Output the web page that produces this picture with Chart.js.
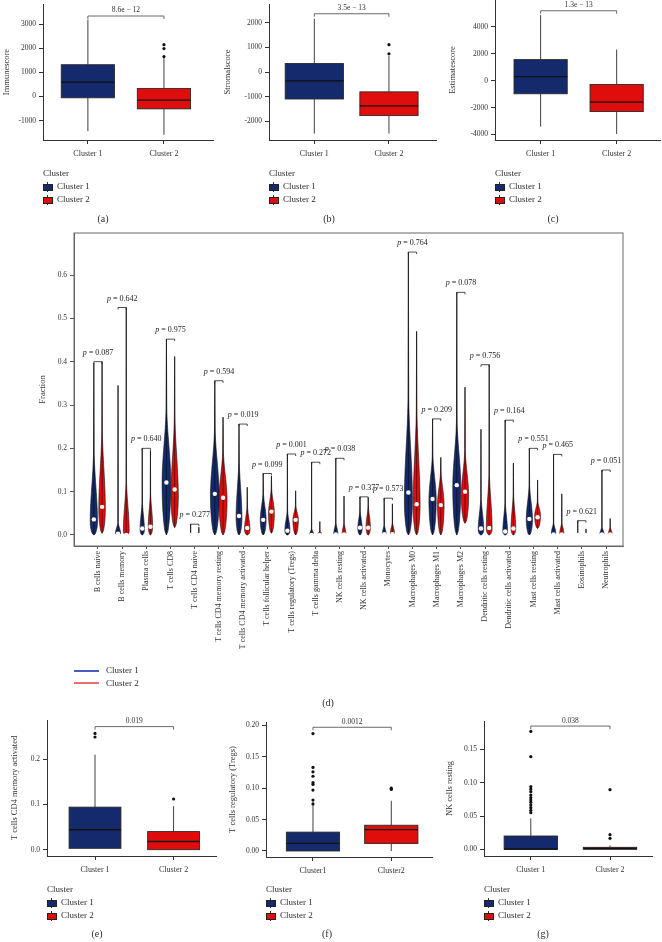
<!DOCTYPE html>
<html>
<head>
<meta charset="utf-8">
<script src="https://cdn.jsdelivr.net/npm/chart.js@4.4.0/dist/chart.umd.min.js"></script>
<style>
body { margin: 0; background: #fff; width: 662px; height: 942px; position: relative; overflow: hidden;
       font-family: "Liberation Serif", "DejaVu Serif", serif; color: #2a2a2a; }
canvas { position: absolute; }
.t { position: absolute; white-space: nowrap; line-height: 1; color: #2a2a2a; font-weight: normal;
     opacity: 0.99; will-change: transform; }
</style>
</head>
<body>
<canvas id="chartA" width="220" height="162" style="left:0;top:0"></canvas>
<canvas id="chartB" width="220" height="162" style="left:220px;top:0"></canvas>
<canvas id="chartC" width="222" height="162" style="left:440px;top:0"></canvas>
<canvas id="chartD" width="662" height="431" style="left:0;top:225px"></canvas>
<canvas id="chartE" width="220" height="173" style="left:0;top:705px"></canvas>
<canvas id="chartF" width="220" height="173" style="left:220px;top:705px"></canvas>
<canvas id="chartG" width="222" height="173" style="left:440px;top:705px"></canvas>

<script>
// ---------- data ----------

const clusterLabels = ["Cluster 1", "Cluster 2"];
const clusterLabelsF = ["Cluster1", "Cluster2"];

// boxplots: [lower whisker, q1, median, q3, upper whisker]
const immuneBox = [[-1445, -53, 595, 1323, 3198], [-1591, -514, -150, 336, 1619]];
const immuneOut = [[], [1660, 1996, 2158]];
const immuneTicks = [-1000, 0, 1000, 2000, 3000];

const stromalBox = [[-2490, -1091, -356, 344, 2162], [-2490, -1763, -1368, -802, 648]];
const stromalOut = [[], [739, 1107]];
const stromalTicks = [-2000, -1000, 0, 1000, 2000];

const estimateBox = [[-3417, -972, 299, 1570, 4882], [-3963, -2295, -1600, -277, 2318]];
const estimateOut = [[], []];
const estimateTicks = [-4000, -2000, 0, 2000, 4000];

const cd4Box = [[0.003, 0.003, 0.044, 0.094, 0.210], [0.0, 0.0, 0.018, 0.040, 0.096]];
const cd4Out = [[0.249, 0.257], [0.112]];
const cd4Ticks = [0, 0.1, 0.2];

const tregBox = [[0, 0, 0.012, 0.030, 0.073], [0, 0.012, 0.034, 0.041, 0.080]];
const tregOut = [[0.075, 0.081, 0.097, 0.106, 0.109, 0.119, 0.126, 0.133, 0.187], [0.098, 0.100]];
const tregTicks = [0, 0.05, 0.10, 0.15, 0.20];

const nkBox = [[0, 0, 0.0005, 0.020, 0.0465], [0, 0, 0.0015, 0.003, 0.006]];
const nkOut = [[0.055, 0.0585, 0.0625, 0.0665, 0.0705, 0.074, 0.0775, 0.0815, 0.0865, 0.0905, 0.094, 0.139, 0.177],
               [0.0165, 0.022, 0.0895]];
const nkTicks = [0, 0.05, 0.10, 0.15];

// violin panel
const cellTypes = ["B cells naive", "B cells memory", "Plasma cells", "T cells CD8", "T cells CD4 naive",
  "T cells CD4 memory resting", "T cells CD4 memory activated", "T cells follicular helper",
  "T cells regulatory (Tregs)", "T cells gamma delta", "NK cells resting", "NK cells activated",
  "Monocytes", "Macrophages M0", "Macrophages M1", "Macrophages M2", "Dendritic cells resting",
  "Dendritic cells activated", "Mast cells resting", "Mast cells activated", "Eosinophils", "Neutrophils"];
const pValues = ["0.087", "0.642", "0.640", "0.975", "0.277", "0.594", "0.019", "0.099", "0.001", "0.272",
  "0.038", "0.377", "0.573", "0.764", "0.209", "0.078", "0.756", "0.164", "0.551", "0.465", "0.621", "0.051"];
const fracTicks = [0, 0.1, 0.2, 0.3, 0.4, 0.5, 0.6];

const max1 = [0.397, 0.345, 0.200, 0.452, 0.025, 0.356, 0.256, 0.142, 0.187, 0.168, 0.177, 0.088, 0.085, 0.653, 0.268, 0.560, 0.244, 0.265, 0.200, 0.186, 0.033, 0.150];
const max2 = [0.400, 0.525, 0.195, 0.412, 0.018, 0.272, 0.110, 0.136, 0.102, 0.031, 0.090, 0.086, 0.072, 0.470, 0.179, 0.341, 0.393, 0.166, 0.127, 0.095, 0.014, 0.038];
const med1 = [0.036, 0.003, 0.015, 0.121, 0.000, 0.095, 0.044, 0.035, 0.010, 0.000, 0.001, 0.017, 0.002, 0.098, 0.083, 0.115, 0.015, 0.008, 0.037, 0.001, 0.000, 0.001];
const med2 = [0.065, 0.000, 0.019, 0.105, 0.000, 0.086, 0.016, 0.054, 0.035, 0.000, 0.001, 0.017, 0.002, 0.071, 0.069, 0.100, 0.016, 0.015, 0.041, 0.001, 0.000, 0.001];
const min1 = [0, 0, 0, 0, 0, 0, 0, 0, 0, 0, 0, 0, 0, 0, 0, 0, 0, 0, 0, 0, 0, 0];
const min2 = [0.004, 0, 0, 0.017, 0, 0, 0, 0.004, 0, 0, 0, 0, 0, 0, 0, 0.027, 0, 0, 0.015, 0, 0, 0];
const peak1 = [0.030, 0.004, 0.012, 0.120, 0.002, 0.090, 0.040, 0.035, 0.010, 0.003, 0.004, 0.015, 0.004, 0.080, 0.080, 0.110, 0.012, 0.008, 0.035, 0.005, 0.002, 0.003];
const peak2 = [0.060, 0.008, 0.020, 0.090, 0.002, 0.080, 0.012, 0.050, 0.035, 0.003, 0.004, 0.018, 0.005, 0.070, 0.070, 0.090, 0.015, 0.015, 0.045, 0.005, 0.002, 0.003];
const neck1 = [0.20, 0.03, 0.08, 0.30, 0.006, 0.25, 0.18, 0.10, 0.06, 0.015, 0.03, 0.06, 0.025, 0.33, 0.19, 0.27, 0.09, 0.08, 0.12, 0.03, 0.006, 0.02];
const neck2 = [0.25, 0.13, 0.10, 0.28, 0.005, 0.20, 0.07, 0.11, 0.07, 0.010, 0.03, 0.07, 0.030, 0.30, 0.15, 0.20, 0.15, 0.10, 0.08, 0.03, 0.005, 0.02];
const dens1 = [1.0, 0.7, 0.6, 1.2, 0.3, 1.2, 0.8, 0.8, 0.7, 0.5, 0.55, 0.6, 0.5, 1.1, 1.0, 1.1, 0.75, 0.65, 0.85, 0.6, 0.4, 0.55];
const dens2 = [0.9, 0.8, 0.6, 1.0, 0.3, 1.1, 0.75, 0.8, 0.75, 0.45, 0.5, 0.6, 0.55, 0.95, 0.9, 1.0, 0.8, 0.65, 0.8, 0.55, 0.4, 0.5];

// ---------- style ----------

const BLUE = "#142a6c";
const RED = "#e00d0d";
const FONT = "'Liberation Serif', 'DejaVu Serif', serif";
const AXIS = "#333";

Chart.defaults.font.family = FONT;
Chart.defaults.font.size = 8;
Chart.defaults.color = "#333";
Chart.defaults.animation = false;

function text(str, x, y, size, align) {
  const d = document.createElement("div");
  d.className = "t";
  d.textContent = str;
  d.style.fontSize = size + "px";
  d.style.top = Math.round(y - size / 2) + "px";
  if (align === "center") {
    d.style.left = Math.round(x - 100) + "px";
    d.style.width = "200px";
    d.style.textAlign = "center";
  } else {
    d.style.left = Math.round(x) + "px";
  }
  document.body.appendChild(d);
}

function key(x, y, color) {
  x = Math.round(x); y = Math.round(y);
  const l = document.createElement("div");
  l.style.cssText = "position:absolute;left:" + (x + 4) + "px;top:" + (y - 5) + "px;width:1px;height:10px;background:#333";
  document.body.appendChild(l);
  const b = document.createElement("div");
  b.style.cssText = "position:absolute;left:" + x + "px;top:" + (y - 3) + "px;width:8px;height:5px;background:" + color + ";border:1px solid #222";
  document.body.appendChild(b);
}

function legendBlock(x, y) {
  text("Cluster", x, y, 9);
  key(x, y + 13.5, BLUE);
  text("Cluster 1", x + 14, y + 13.5, 9);
  key(x, y + 26.5, RED);
  text("Cluster 2", x + 14, y + 26.5, 9);
}

// ---------- boxplot panels ----------

function boxPanel(id, cfg) {

  const boxPlugin = {
    id: "boxes",
    beforeDatasetsDraw(chart) {
      const ctx = chart.ctx, xs = chart.scales.x, ys = chart.scales.y;
      const fills = [BLUE, RED];
      ctx.save();
      cfg.box.forEach((b, i) => {
        const cx = xs.getPixelForValue(i + 1);
        const half = xs.getPixelForValue(i + 1 + cfg.half) - cx;
        const p = b.map(v => ys.getPixelForValue(v));
        ctx.strokeStyle = "#2a2a2a";
        ctx.lineWidth = 0.9;
        ctx.beginPath();
        ctx.moveTo(cx, p[0]); ctx.lineTo(cx, p[1]);
        ctx.moveTo(cx, p[3]); ctx.lineTo(cx, p[4]);
        ctx.stroke();
        ctx.fillStyle = fills[i];
        ctx.fillRect(cx - half, p[3], 2 * half, p[1] - p[3]);
        ctx.strokeRect(cx - half, p[3], 2 * half, p[1] - p[3]);
        ctx.strokeStyle = "#111";
        ctx.lineWidth = 1.3;
        ctx.beginPath();
        ctx.moveTo(cx - half, p[2]); ctx.lineTo(cx + half, p[2]);
        ctx.stroke();
      });

      // significance bracket
      const x1 = xs.getPixelForValue(1), x2 = xs.getPixelForValue(2);
      const yb = ys.getPixelForValue(cfg.bracket);
      ctx.strokeStyle = "#444";
      ctx.lineWidth = 0.8;
      ctx.beginPath();
      ctx.moveTo(x1, yb + 3); ctx.lineTo(x1, yb); ctx.lineTo(x2, yb); ctx.lineTo(x2, yb + 3);
      ctx.stroke();
      ctx.fillStyle = "#333";
      ctx.font = "7.5px " + FONT;
      ctx.textAlign = "center";
      ctx.textBaseline = "middle";
      ctx.fillText(cfg.pText, (x1 + x2) / 2, yb - 5.5);
      ctx.restore();
    }
  };

  new Chart(document.getElementById(id), {

    type: "scatter",

    data: {
      datasets: [{
        data: cfg.out.flatMap((arr, i) => arr.map(v => ({ x: i + 1, y: v }))),
        pointRadius: 1.6,
        backgroundColor: "#111",
        borderWidth: 0
      }]
    },

    options: {
      responsive: false,
      layout: { padding: { top: cfg.padTop, right: cfg.padRight, left: 0, bottom: 0 } },
      plugins: { legend: { display: false }, tooltip: { enabled: false } },
      scales: {
        x: {
          type: "linear",
          min: cfg.xMin,
          max: cfg.xMax,
          afterBuildTicks: s => { s.ticks = [{ value: 1 }, { value: 2 }]; },
          afterFit: s => { s.height = cfg.xHeight; s.paddingLeft = 0; s.paddingRight = 0; },
          ticks: { callback: v => cfg.labels[v - 1], padding: 5, font: { size: 8 }, maxRotation: 0 },
          grid: { drawOnChartArea: false, tickLength: 4, color: AXIS },
          border: { color: AXIS }
        },
        y: {
          min: cfg.yMin,
          max: cfg.yMax,
          afterBuildTicks: s => { s.ticks = cfg.ticks.map(v => ({ value: v })); },
          afterFit: s => { s.width = cfg.yWidth; s.paddingTop = 0; s.paddingBottom = 0; },
          ticks: { callback: v => v.toFixed(cfg.digits), padding: 3, font: { size: 7.5 } },
          title: { display: true, text: cfg.yTitle, font: { size: 8.5 }, padding: { top: cfg.titlePad, bottom: 0 } },
          grid: { drawOnChartArea: false, tickLength: 4, color: AXIS },
          border: { color: AXIS }
        }
      }
    },

    plugins: [boxPlugin]
  });
}

boxPanel("chartA", {
  box: immuneBox, out: immuneOut, ticks: immuneTicks, labels: clusterLabels,
  yMin: -1810, yMax: 3850, xMin: 0.41, xMax: 2.645, half: 0.35, digits: 0,
  yWidth: 43, padTop: 0, padRight: 7, xHeight: 22, titlePad: 2,
  yTitle: "Immunescore", bracket: 3350, pText: "8.6e \u2212 12"
});

boxPanel("chartB", {
  box: stromalBox, out: stromalOut, ticks: stromalTicks, labels: clusterLabels,
  yMin: -2751, yMax: 2755, xMin: 0.393, xMax: 2.63, half: 0.39, digits: 0,
  yWidth: 49, padTop: 0, padRight: 2, xHeight: 22, titlePad: 3,
  yTitle: "Stromalscore", bracket: 2360, pText: "3.5e \u2212 13"
});

boxPanel("chartC", {
  box: estimateBox, out: estimateOut, ticks: estimateTicks, labels: clusterLabels,
  yMin: -4411, yMax: 6004, xMin: 0.40, xMax: 2.57, half: 0.35, digits: 0,
  yWidth: 55, padTop: 0, padRight: 2, xHeight: 22, titlePad: 8,
  yTitle: "Estimatescore", bracket: 5204, pText: "1.3e \u2212 13"
});

boxPanel("chartE", {
  box: cd4Box, out: cd4Out, ticks: cd4Ticks, labels: clusterLabels,
  yMin: -0.014, yMax: 0.2866, xMin: 0.389, xMax: 2.54, half: 0.33, digits: 1,
  yWidth: 47, padTop: 15, padRight: 3, xHeight: 22, titlePad: 10,
  yTitle: "T cells CD4 memory activated", bracket: 0.272, pText: "0.019"
});

boxPanel("chartF", {
  box: tregBox, out: tregOut, ticks: tregTicks, labels: clusterLabelsF,
  yMin: -0.0096, yMax: 0.2054, xMin: 0.40, xMax: 2.52, half: 0.34, digits: 2,
  yWidth: 46, padTop: 17, padRight: 8, xHeight: 21, titlePad: 8,
  yTitle: "T cells regulatory (Tregs)", bracket: 0.197, pText: "0.0012"
});

boxPanel("chartG", {
  box: nkBox, out: nkOut, ticks: nkTicks, labels: clusterLabels,
  yMin: -0.010, yMax: 0.1926, xMin: 0.409, xMax: 2.53, half: 0.337, digits: 2,
  yWidth: 44, padTop: 16, padRight: 10, xHeight: 22, titlePad: 5,
  yTitle: "NK cells resting", bracket: 0.185, pText: "0.038"
});

// ---------- violin panel ----------

const OFF = 0.17;     // dodge of the two clusters
const VW = 0.15;      // violin half width per unit density

function drawViolin(ctx, ys, cx, w, lo, peak, neck, hi, color) {
  const vals = [];
  for (let k = 0; k <= 14; k++) vals.push(lo + (peak - lo) * k / 14);
  for (let k = 1; k <= 20; k++) vals.push(peak + (neck - peak) * k / 20);
  for (let k = 1; k <= 6; k++) vals.push(neck + (hi - neck) * k / 6);
  const pts = vals.map(v => {
    let h;
    if (v <= peak) {
      const t = peak > lo ? (v - lo) / (peak - lo) : 1;
      h = w * Math.sqrt(Math.sin(t * Math.PI / 2));
    } else if (v <= neck) {
      const t = (v - peak) / (neck - peak), s = t * t * (3 - 2 * t);
      h = w * (1 - 0.92 * s);
    } else {
      const t = (v - neck) / (hi - neck);
      h = w * 0.08 * (1 - t);
    }
    return [ys.getPixelForValue(v), h];
  });
  ctx.beginPath();
  pts.forEach((p, k) => k ? ctx.lineTo(cx - p[1], p[0]) : ctx.moveTo(cx - p[1], p[0]));
  for (let k = pts.length - 1; k >= 0; k--) ctx.lineTo(cx + pts[k][1], pts[k][0]);
  ctx.closePath();
  ctx.fillStyle = color;
  ctx.fill();
  ctx.strokeStyle = "#111";
  ctx.lineWidth = 0.6;
  ctx.stroke();
  ctx.strokeStyle = "rgba(0,0,0,0.8)";
  ctx.lineWidth = 0.6;
  ctx.beginPath();
  ctx.moveTo(cx, ys.getPixelForValue(lo));
  ctx.lineTo(cx, ys.getPixelForValue(hi));
  ctx.stroke();
}

const violinPlugin = {
  id: "violins",
  beforeDatasetsDraw(chart) {
    const ctx = chart.ctx, xs = chart.scales.x, ys = chart.scales.y;
    const unit = xs.getPixelForValue(1) - xs.getPixelForValue(0);
    ctx.save();
    cellTypes.forEach((c, i) => {
      const xa = xs.getPixelForValue(i - OFF), xb = xs.getPixelForValue(i + OFF);
      drawViolin(ctx, ys, xa, dens1[i] * VW * unit, min1[i], peak1[i], neck1[i], max1[i], BLUE);
      drawViolin(ctx, ys, xb, dens2[i] * VW * unit, min2[i], peak2[i], neck2[i], max2[i], RED);

      // bracket and p label
      const yb = ys.getPixelForValue(Math.max(max1[i], max2[i]));
      ctx.strokeStyle = "#222";
      ctx.lineWidth = 0.8;
      ctx.beginPath();
      ctx.moveTo(xa, yb + 2); ctx.lineTo(xa, yb); ctx.lineTo(xb, yb); ctx.lineTo(xb, yb + 2);
      ctx.stroke();
      const rest = " = " + pValues[i];
      ctx.font = "italic 8px " + FONT;
      const w1 = ctx.measureText("p").width;
      ctx.font = "8px " + FONT;
      const w2 = ctx.measureText(rest).width;
      const sx = xs.getPixelForValue(i) - (w1 + w2) / 2;
      ctx.fillStyle = "#222";
      ctx.textAlign = "left";
      ctx.textBaseline = "middle";
      ctx.font = "italic 8px " + FONT;
      ctx.fillText("p", sx, yb - 9);
      ctx.font = "8px " + FONT;
      ctx.fillText(rest, sx + w1, yb - 9);
    });
    ctx.restore();
  },
  afterDraw(chart) {
    const a = chart.chartArea, ctx = chart.ctx;
    ctx.save();
    ctx.strokeStyle = "#666";
    ctx.lineWidth = 1;
    ctx.strokeRect(a.left, a.top, a.right - a.left, a.bottom - a.top);
    ctx.restore();
  }
};

new Chart(document.getElementById("chartD"), {

  type: "scatter",

  data: {
    datasets: [
      {
        data: cellTypes.map((c, i) => ({ x: i - OFF, y: med1[i] })),
        pointRadius: 2.2, backgroundColor: "#fff", borderWidth: 0
      },
      {
        data: cellTypes.map((c, i) => ({ x: i + OFF, y: med2[i] })),
        pointRadius: 2.2, backgroundColor: "#fff", borderWidth: 0
      }
    ]
  },

  options: {
    responsive: false,
    layout: { padding: { top: 8, right: 39, left: 0, bottom: 0 } },
    plugins: { legend: { display: false }, tooltip: { enabled: false } },
    scales: {
      x: {
        type: "linear",
        min: -0.99,
        max: 21.7,
        afterBuildTicks: s => { s.ticks = cellTypes.map((c, i) => ({ value: i })); },
        afterFit: s => { s.height = 110; s.paddingLeft = 0; s.paddingRight = 0; },
        ticks: { autoSkip: false, minRotation: 90, maxRotation: 90, callback: v => cellTypes[v], padding: 2, font: { size: 8 } },
        grid: { drawOnChartArea: false, tickLength: 3, color: "#555" },
        border: { color: "#666" }
      },
      y: {
        min: -0.0254,
        max: 0.697,
        afterBuildTicks: s => { s.ticks = fracTicks.map(v => ({ value: v })); },
        afterFit: s => { s.width = 74; s.paddingTop = 0; s.paddingBottom = 0; },
        ticks: { callback: v => v.toFixed(1), padding: 3, font: { size: 7.5 } },
        title: { display: true, text: "Fraction", font: { size: 8.5 }, padding: { top: 38, bottom: 0 } },
        grid: { drawOnChartArea: false, tickLength: 4, color: "#555" },
        border: { color: "#666" }
      }
    }
  },

  plugins: [violinPlugin]
});

// ---------- legends and panel letters ----------

legendBlock(43, 173);
legendBlock(269, 173);
legendBlock(495, 173);
legendBlock(47, 889);
legendBlock(266, 889);
legendBlock(484, 889);

const lineKey = (y, color) => {
  const d = document.createElement("div");
  d.style.cssText = "position:absolute;left:74px;top:" + Math.round(y - 1) + "px;width:25px;height:2px;background:" + color;
  document.body.appendChild(d);
};
lineKey(670.7, "#4a5cc0");
text("Cluster 1", 106, 670.7, 9);
lineKey(683.3, "#f26a6a");
text("Cluster 2", 106, 683.3, 9);

text("(a)", 103, 219, 10, "center");
text("(b)", 329, 219, 10, "center");
text("(c)", 553, 219, 10, "center");
text("(d)", 328, 703, 10, "center");
text("(e)", 97, 934, 10, "center");
text("(f)", 327, 934, 10, "center");
text("(g)", 543, 934, 10, "center");
</script>
</body>
</html>
